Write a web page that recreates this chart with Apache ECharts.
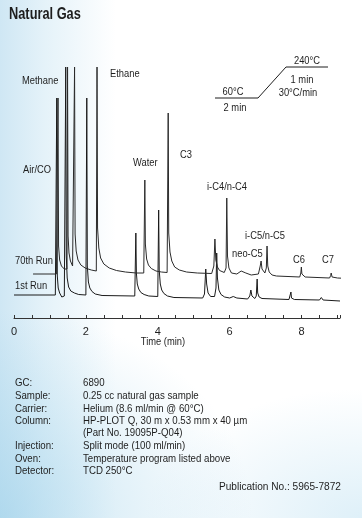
<!DOCTYPE html>
<html>
<head>
<meta charset="utf-8">
<script src="https://cdn.jsdelivr.net/npm/echarts@6/dist/echarts.min.js"></script>
<style>
html,body{margin:0;padding:0;width:362px;height:518px;overflow:hidden;}
body{
  background:
    radial-gradient(ellipse 70% 40% at 0% 100%, rgba(150,205,232,0.55), rgba(255,255,255,0) 100%),
    radial-gradient(ellipse 60% 25% at 100% 100%, rgba(190,225,242,0.5), rgba(255,255,255,0) 100%),
    linear-gradient(to right, #cfe7f4 0%, #e4f2f9 12%, #ffffff 32%);
}
#c{width:362px;height:518px;}
</style>
</head>
<body>
<div id="c"></div>
<script>
// ---- data ----
// time (min) , detector signal (arbitrary units)
var run1st = [
  [0,23],[1.15,23],[1.17,23.5],[1.19,220],[1.205,42],[1.23,30],[1.27,25],[1.33,21],[1.40,22],[1.425,24],
  [1.44,251],[1.455,62],[1.48,40],[1.52,31],[1.58,27],[1.68,25],[1.8,23.5],[2.0,23],[2.01,23.5],[2.025,220],[2.04,52],
  [2.07,36],[2.11,30],[2.17,26.5],[2.26,24],[2.45,22.5],[3.36,22],[3.375,23],[3.39,85],[3.405,45],[3.43,34],[3.47,29],
  [3.53,25.5],[3.62,23.5],[3.75,22],[4.0,21.5],[4.01,22.5],[4.025,108],[4.04,48],[4.07,34],[4.11,28],[4.17,24.5],[4.27,22],[4.45,20.5],
  [5.25,20],[5.30,24],[5.335,49],[5.36,34],[5.4,25],[5.47,21.5],[5.58,21.5],[5.62,30],[5.64,65],[5.66,40],
  [5.7,28],[5.76,23.5],[5.86,21],[6.0,20],[6.1,21.5],[6.2,20],[6.5,19],[6.56,22],[6.59,28],[6.62,22],[6.7,19.5],
  [6.74,22],[6.765,39],[6.78,25],[6.82,21],[6.9,19.5],[7.65,18.5],[7.69,20],[7.705,26],[7.72,20],[7.8,18.5],
  [8.5,18],[8.55,20.5],[8.6,18],[9.07,17]
];
var run70th = [
  [0.53,44],[1.18,44],[1.2,46],[1.225,220],[1.24,72],[1.27,58],[1.32,52],[1.4,49],[1.475,49],[1.49,251],
  [1.505,82],[1.53,65],[1.57,57],[1.63,52],[1.67,50.5],[1.685,251],[1.70,84],[1.73,67],[1.78,58],[1.86,53],
  [1.98,50],[2.15,48],[2.29,47],[2.31,251],[2.325,90],[2.36,70],[2.41,60],[2.5,54],[2.65,50],[2.85,47.5],[3.1,46],
  [3.4,45],[3.61,45],[3.625,46],[3.64,138],[3.655,74],[3.69,59],[3.74,53],[3.82,49.5],[3.95,47],[4.1,46],[4.26,45.5],
  [4.275,47],[4.29,205],[4.305,85],[4.34,66],[4.39,57],[4.47,51],[4.6,48],[4.8,46],[5.1,45],[5.5,44.5],[5.56,52],
  [5.59,79],[5.615,58],[5.66,51],[5.72,47.5],[5.85,45.5],[5.9,50],[5.92,120],[5.94,62],[5.98,50],[6.05,45],
  [6.2,44],[6.32,47],[6.45,45],[6.6,43],[6.8,44],[6.85,52],[6.875,57],[6.9,49],[6.98,45],[7.02,50],
  [7.04,72],[7.06,52],[7.1,46],[7.18,43],[7.3,42],[7.95,41],[7.98,45],[7.995,51],[8.01,44],[8.1,41],[8.78,40],
  [8.81,42.5],[8.825,45],[8.85,41],[9.0,40],[9.3,39.5]
];
var xTickLabels = ['0','2','4','6','8'];
var xAxisTitle = 'Time (min)';
var peakNames = ['Methane','Ethane','Air/CO','Water','C3','i-C4/n-C4','i-C5/n-C5','neo-C5','C6','C7'];
var runNames = ['70th Run','1st Run'];
var tempSteps = ['60°C','2 min','240°C','1 min','30°C/min'];
var infoLabels = ['GC:','Sample:','Carrier:','Column:','','Injection:','Oven:','Detector:'];
var infoValues = ['6890','0.25 cc natural gas sample','Helium (8.6 ml/min @ 60°C)','HP-PLOT Q, 30 m x 0.53 mm x 40 µm','(Part No. 19095P-Q04)','Split mode (100 ml/min)','Temperature program listed above','TCD 250°C'];
var publication = 'Publication No.: 5965-7872';

// ---- chart ----
var FONT = "'Liberation Sans',Arial,Helvetica,sans-serif";
function txt(t, x, y, size, align, weight, sx){
  return {type:'text', z:10, x:x, y:y, scaleX:sx||0.85, scaleY:1, originX:0, originY:0,
    style:{text:t, x:0, y:0, fill:'#1e1e1e',
    font:(weight||'normal')+' '+size+'px '+FONT,
    align:align||'left', textAlign:align||'left', verticalAlign:'middle', textVerticalAlign:'middle'}};
}
var g = [];
g.push(txt('Natural Gas', 9, 15, 16, 'left', 'bold', 0.8));
// peak labels
var peakPos = [[22,81],[110,74],[23,170],[133,163],[180,155],[207,187],[245,236],[232,254],[293,260],[322,260]];
peakNames.forEach(function(n,i){ g.push(txt(n, peakPos[i][0], peakPos[i][1], 11)); });
var runPos = [[15,261],[15,286]];
runNames.forEach(function(n,i){ g.push(txt(n, runPos[i][0], runPos[i][1], 11)); });
g.push(txt(xAxisTitle, 163, 342, 11, 'center'));
// temperature program inset
g.push({type:'polyline', z:10, shape:{points:[[215,98],[258,98],[286,67],[328,67]]}, style:{stroke:'#1e1e1e', lineWidth:1, fill:null}});
var tempPos = [[233,92],[235,108],[307,61],[302,80],[298,93]];
tempSteps.forEach(function(n,i){ g.push(txt(n, tempPos[i][0], tempPos[i][1], 11, 'center')); });
// info block
var rowsY = [382.5,395.5,408.5,421,433,446,458.5,471];
infoLabels.forEach(function(n,i){ if(n) g.push(txt(n, 15, rowsY[i], 11, 'left', 'normal', 0.88)); });
infoValues.forEach(function(n,i){ g.push(txt(n, 83, rowsY[i], 11, 'left', 'normal', 0.88)); });
g.push(txt(publication, 341, 487, 11, 'right', 'normal', 0.92));

var chart = echarts.init(document.getElementById('c'), null, {renderer:'canvas'});
chart.setOption({
  backgroundColor:'transparent',
  animation:false,
  grid:{left:14, right:22, top:67, bottom:200, containLabel:false},
  xAxis:{type:'value', min:0, max:9.07, interval:0.5,
    axisLine:{show:true, lineStyle:{color:'#333', width:1}},
    axisTick:{show:true, inside:true, length:3, lineStyle:{color:'#333'}},
    splitLine:{show:false},
    axisLabel:{color:'#1e1e1e', fontSize:11, fontFamily:FONT, margin:8,
      formatter:function(v){ var s=String(Math.round(v*100)/100); return xTickLabels.indexOf(s)>=0 && Math.abs(v-Math.round(v))<1e-6 ? s : ''; }}
  },
  yAxis:{type:'value', min:0, max:251, show:false},
  series:[
    {name:'1st Run', type:'line', data:run1st, showSymbol:false, clip:false,
      lineStyle:{color:'#1a1a1a', width:1}},
    {name:'70th Run', type:'line', data:run70th, showSymbol:false, clip:false,
      lineStyle:{color:'#2a2a2a', width:1}}
  ],
  graphic:g
});
</script>
</body>
</html>
